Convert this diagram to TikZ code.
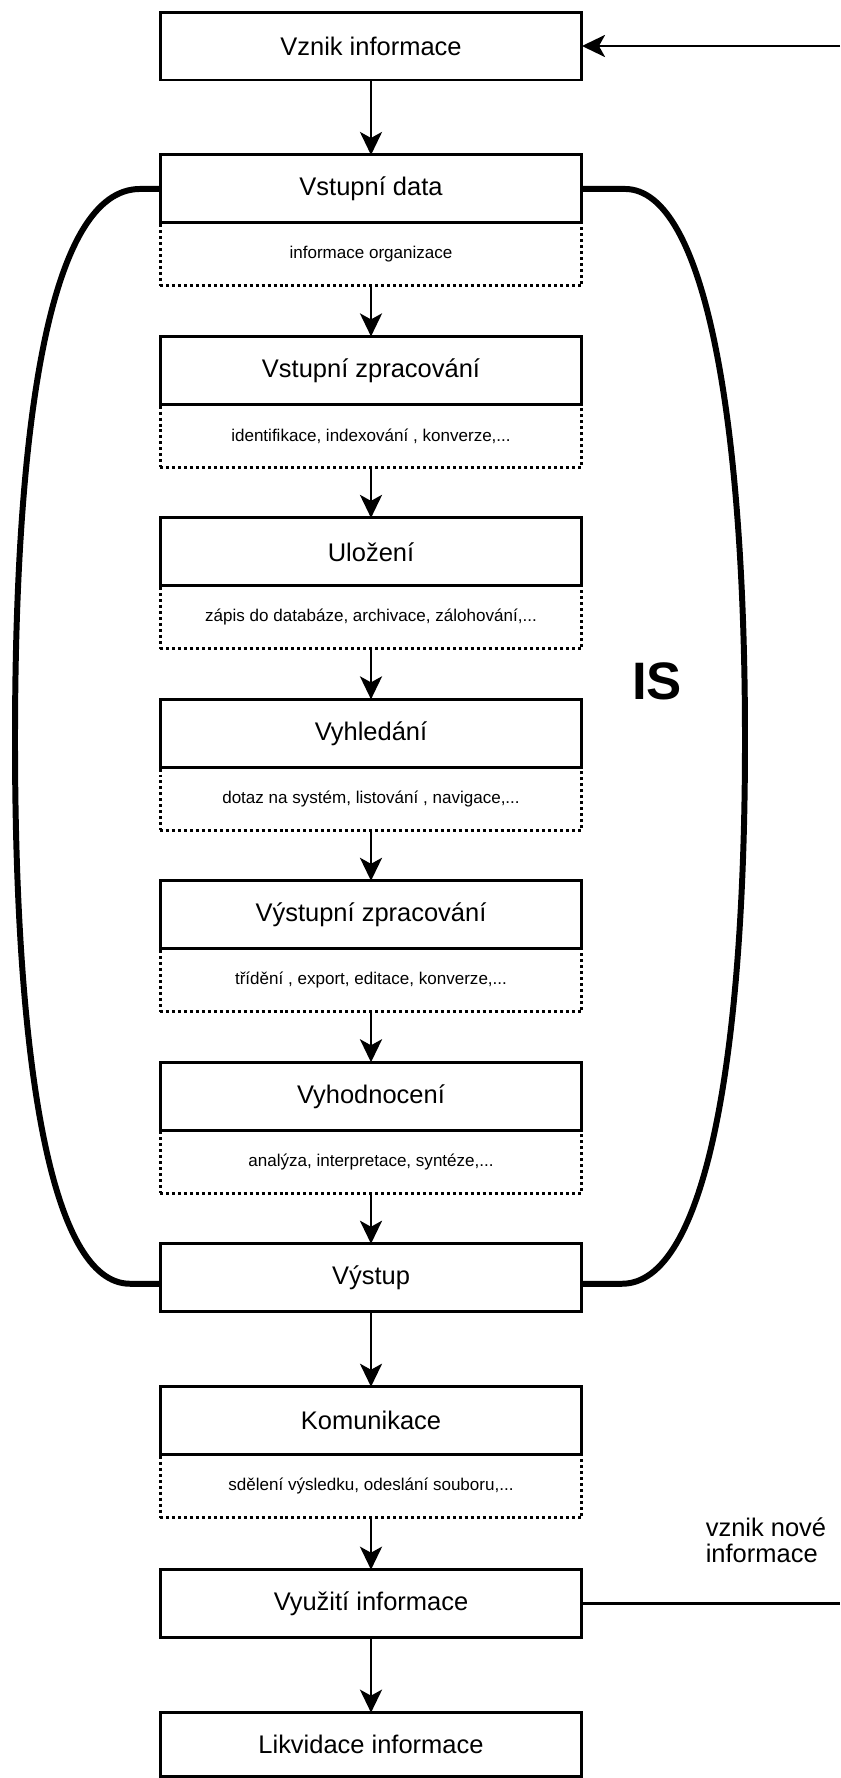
\documentclass[tikz,border=0pt]{standalone}
\usepackage{fontspec}
\setmainfont{Liberation Sans}
\usetikzlibrary{positioning,arrows.meta}
\begin{document}
\begin{tikzpicture}[x=0.02cm, y=-0.02cm, >={Stealth[length=0.46cm,width=0.44cm,inset=0.12cm]},
    stage/.style = {draw, line width=1.7pt, outer sep=0pt, minimum width=8.44cm, minimum height=1.36cm, font=\fontsize{14.5}{17}\selectfont},
    note/.style = {draw, line width=1.7pt, dash pattern=on 1.7pt off 1.7pt, outer sep=0pt, minimum width=8.44cm, minimum height=1.26cm, font=\fontsize{9.7}{12}\selectfont},
    flow/.style = {->, line width=1.7pt},
    bow/.style = {line width=3.4pt}]
    \useasboundingbox (0,0) rectangle (840,1778);
    \node[stage] (vi) at (371,46) {Vznik informace};
    \node[stage] (vd) [below=1.5cm of vi] {Vstupní data};
    \node[note] (vdn) [below=0pt of vd] {informace organizace};
    \node[stage] (vz) [below=1.01cm of vdn] {Vstupní zpracování};
    \node[note] (vzn) [below=0pt of vz] {identifikace, indexování , konverze,...};
    \node[stage] (ul) [below=1.01cm of vzn] {Uložení};
    \node[note] (uln) [below=0pt of ul] {zápis do databáze, archivace, zálohování,...};
    \node[stage] (vh) [below=1.01cm of uln] {Vyhledání};
    \node[note] (vhn) [below=0pt of vh] {dotaz na systém, listování , navigace,...};
    \node[stage] (vs) [below=1.01cm of vhn] {Výstupní zpracování};
    \node[note] (vsn) [below=0pt of vs] {třídění , export, editace, konverze,...};
    \node[stage] (vo) [below=1.01cm of vsn] {Vyhodnocení};
    \node[note] (von) [below=0pt of vo] {analýza, interpretace, syntéze,...};
    \node[stage] (vy) [below=1.01cm of von] {Výstup};
    \node[stage] (ko) [below=1.5cm of vy] {Komunikace};
    \node[note] (kon) [below=0pt of ko] {sdělení výsledku, odeslání souboru,...};
    \node[stage] (vu) [below=1.04cm of kon] {Využití informace};
    \node[stage, minimum height=1.28cm] (li) [below=1.5cm of vu] {Likvidace informace};
    \node[font=\fontsize{30}{36}\selectfont\bfseries] (is) at (657,681) {IS};
    \node[align=left, font=\fontsize{14.5}{15}\selectfont] (nov) at (766,1540) {vznik nové\\informace};
    \coordinate (inR) at (840,46);
    \coordinate (outR) at (840,0);
    \coordinate (lft) at (15,740);
    \coordinate (rgt) at (745,740);
    \draw[flow] (inR) -- (vi.east);
    \draw[line width=1.7pt] (vu.east) -- (vu.east -| outR);
    \draw[flow] (vi) -- (vd);
    \draw[flow] (vdn) -- (vz);
    \draw[flow] (vzn) -- (ul);
    \draw[flow] (uln) -- (vh);
    \draw[flow] (vhn) -- (vs);
    \draw[flow] (vsn) -- (vo);
    \draw[flow] (von) -- (vy);
    \draw[flow] (vy) -- (ko);
    \draw[flow] (kon) -- (vu);
    \draw[flow] (vu) -- (li);
    \draw[bow] (vd.west) -- ++(-20,0) .. controls +(-90,0) and +(0,-320) .. (lft) .. controls +(0,320) and +(-80,0) .. ([xshift=-0.6cm,yshift=-0.12cm]vy.west) -- ([yshift=-0.12cm]vy.west);
    \draw[bow] (vd.east) -- ++(43,0) .. controls +(80,0) and +(0,-320) .. (rgt) .. controls +(0,320) and +(83,0) .. ([xshift=0.8cm,yshift=-0.12cm]vy.east) -- ([yshift=-0.12cm]vy.east);
\end{tikzpicture}
\end{document}
